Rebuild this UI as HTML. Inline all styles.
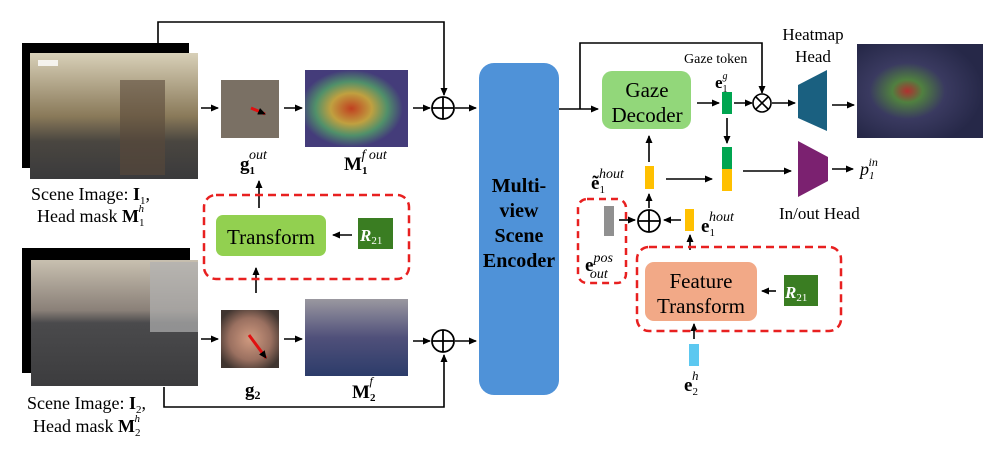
<!DOCTYPE html>
<html><head><meta charset="utf-8"><style>
body{margin:0;background:#fff;}
svg text{font-family:"Liberation Serif",serif;}
</style></head><body>
<svg width="997" height="444" viewBox="0 0 997 444" xmlns="http://www.w3.org/2000/svg">
<defs>
<marker id="a" markerWidth="8" markerHeight="8" refX="7" refY="4" orient="auto" markerUnits="userSpaceOnUse"><path d="M0,0.5 L8,4 L0,7.5 Z" fill="#000"/></marker>
<linearGradient id="p1" x1="0" y1="0" x2="0" y2="1"><stop offset="0" stop-color="#d8d0b8"/><stop offset="0.5" stop-color="#8a7a5a"/><stop offset="0.7" stop-color="#4a4640"/><stop offset="1" stop-color="#3a3a3c"/></linearGradient>
<linearGradient id="p2" x1="0" y1="0" x2="0" y2="1"><stop offset="0" stop-color="#c8c0b0"/><stop offset="0.4" stop-color="#8a8078"/><stop offset="0.5" stop-color="#4a4a4c"/><stop offset="1" stop-color="#3c3c3e"/></linearGradient>
<radialGradient id="h1" cx="0.45" cy="0.5" r="0.5"><stop offset="0" stop-color="#c04020"/><stop offset="0.4" stop-color="#c0a040"/><stop offset="0.7" stop-color="#50906a"/><stop offset="1" stop-color="#443c7a"/></radialGradient>
<linearGradient id="h2" x1="0" y1="0" x2="0" y2="1"><stop offset="0" stop-color="#9a98a0"/><stop offset="0.5" stop-color="#50507a"/><stop offset="1" stop-color="#2c3c6a"/></linearGradient>
<radialGradient id="h3" cx="0.4" cy="0.5" r="0.6"><stop offset="0" stop-color="#b03030"/><stop offset="0.2" stop-color="#508040"/><stop offset="0.5" stop-color="#3a3a60"/><stop offset="1" stop-color="#262848"/></radialGradient>
<radialGradient id="f" cx="0.5" cy="0.5" r="0.6"><stop offset="0" stop-color="#d09a80"/><stop offset="0.6" stop-color="#9a7060"/><stop offset="1" stop-color="#403530"/></radialGradient>
</defs>
<rect x="22" y="43" width="167" height="125" fill="#000"/>
<rect x="30" y="53" width="168" height="126" fill="url(#p1)"/>
<rect x="120" y="80" width="45" height="95" fill="#5a4a3a" opacity="0.6"/>
<rect x="38" y="60" width="20" height="6" fill="#fff" opacity="0.8"/>
<rect x="22" y="248" width="168" height="125" fill="#000"/>
<rect x="31" y="260" width="167" height="126" fill="url(#p2)"/>
<rect x="150" y="262" width="48" height="70" fill="#b0b0b0" opacity="0.7"/>
<text x="31" y="200" font-size="18">Scene Image: <tspan font-weight="bold">I</tspan><tspan font-size="11" dy="4">1</tspan><tspan dy="-4">,</tspan></text>
<text x="37" y="222" font-size="18">Head mask <tspan font-weight="bold">M</tspan><tspan font-size="11" dy="4">1</tspan><tspan font-size="11" font-style="italic" dx="-6" dy="-14">h</tspan></text>
<text x="27" y="409" font-size="18">Scene Image: <tspan font-weight="bold">I</tspan><tspan font-size="11" dy="4">2</tspan><tspan dy="-4">,</tspan></text>
<text x="33" y="432" font-size="18">Head mask <tspan font-weight="bold">M</tspan><tspan font-size="11" dy="4">2</tspan><tspan font-size="11" font-style="italic" dx="-6" dy="-14">h</tspan></text>
<g stroke="#000" stroke-width="1.6" fill="none">
<line x1="201" y1="108" x2="218" y2="108" marker-end="url(#a)"/>
<line x1="284" y1="108" x2="302" y2="108" marker-end="url(#a)"/>
<line x1="413" y1="108" x2="430" y2="108" marker-end="url(#a)"/>
<line x1="455" y1="108" x2="476" y2="108" marker-end="url(#a)"/>
<polyline points="158,43 158,22 444,22 444,95" marker-end="url(#a)"/>
<line x1="201" y1="339" x2="218" y2="339" marker-end="url(#a)"/>
<line x1="284" y1="339" x2="302" y2="339" marker-end="url(#a)"/>
<line x1="413" y1="341" x2="430" y2="341" marker-end="url(#a)"/>
<line x1="455" y1="341" x2="476" y2="341" marker-end="url(#a)"/>
<polyline points="164,387 164,407 444,407 444,355" marker-end="url(#a)"/>
<line x1="256" y1="293" x2="256" y2="268" marker-end="url(#a)"/>
<line x1="259" y1="208" x2="259" y2="181" marker-end="url(#a)"/>
<line x1="352" y1="235" x2="333" y2="235" marker-end="url(#a)"/>
</g>
<circle cx="443" cy="108" r="11" fill="#fff" stroke="#000" stroke-width="1.8"/><path d="M432,108 H454 M443,97 V119" stroke="#000" stroke-width="1.8"/>
<circle cx="443" cy="341" r="11" fill="#fff" stroke="#000" stroke-width="1.8"/><path d="M432,341 H454 M443,330 V352" stroke="#000" stroke-width="1.8"/>
<rect x="221" y="80" width="58" height="58" fill="#7a7064"/>
<line x1="251" y1="108" x2="265" y2="114" stroke="#e01010" stroke-width="3" marker-end="url(#a)"/>
<rect x="305" y="70" width="103" height="77" fill="url(#h1)"/>
<text x="240" y="170" font-size="19" font-weight="bold">g<tspan font-size="11" dy="4">1</tspan><tspan font-size="14" font-style="italic" font-weight="normal" dx="-6" dy="-15">out</tspan></text>
<text x="344" y="170" font-size="19" font-weight="bold">M<tspan font-size="11" dy="4">1</tspan><tspan font-size="14" font-style="italic" font-weight="normal" dx="-6" dy="-15">f out</tspan></text>
<rect x="221" y="310" width="58" height="58" fill="url(#f)"/>
<line x1="249" y1="335" x2="266" y2="358" stroke="#e01010" stroke-width="3" marker-end="url(#a)"/>
<rect x="305" y="299" width="103" height="77" fill="url(#h2)"/>
<text x="245" y="396" font-size="19" font-weight="bold">g<tspan font-size="12" dy="3">2</tspan></text>
<text x="352" y="398" font-size="19" font-weight="bold">M<tspan font-size="11" dy="3">2</tspan><tspan font-size="12" font-style="italic" font-weight="normal" dx="-6" dy="-16">f</tspan></text>
<rect x="204" y="195" width="205" height="84" rx="12" fill="none" stroke="#e82020" stroke-width="2.5" stroke-dasharray="8,5"/>
<rect x="216" y="215" width="110" height="41" rx="7" fill="#92d050"/>
<text x="271" y="244" font-size="21" text-anchor="middle">Transform</text>
<rect x="358" y="218" width="35" height="31" fill="#3a7d22"/>
<text x="360" y="241" font-size="17" fill="#fff" font-weight="bold" font-style="italic">R<tspan font-size="11" font-style="normal" font-weight="normal" dy="3">21</tspan></text>
<rect x="479" y="63" width="80" height="332" rx="15" fill="#4f92d8"/>
<text font-size="20" font-weight="bold" text-anchor="middle"><tspan x="519" y="192">Multi-</tspan><tspan x="519" y="217">view</tspan><tspan x="519" y="242">Scene</tspan><tspan x="519" y="267">Encoder</tspan></text>
<g stroke="#000" stroke-width="1.6" fill="none">
<line x1="559" y1="109" x2="598" y2="109" marker-end="url(#a)"/>
<polyline points="580,109 580,43 762,43 762,93" marker-end="url(#a)"/>
<line x1="697" y1="103" x2="719" y2="103" marker-end="url(#a)"/>
<line x1="734" y1="103" x2="752" y2="103" marker-end="url(#a)"/>
<line x1="772" y1="103" x2="795" y2="103" marker-end="url(#a)"/>
<line x1="832" y1="105" x2="854" y2="105" marker-end="url(#a)"/>
<line x1="727" y1="118" x2="727" y2="143" marker-end="url(#a)"/>
<line x1="649" y1="162" x2="649" y2="136" marker-end="url(#a)"/>
<line x1="666" y1="179" x2="712" y2="179" marker-end="url(#a)"/>
<line x1="743" y1="171" x2="791" y2="171" marker-end="url(#a)"/>
<line x1="832" y1="169" x2="853" y2="169" marker-end="url(#a)"/>
<line x1="649" y1="208" x2="649" y2="194" marker-end="url(#a)"/>
<line x1="681" y1="220" x2="664" y2="220" marker-end="url(#a)"/>
<line x1="619" y1="220" x2="635" y2="220" marker-end="url(#a)"/>
<line x1="690" y1="250" x2="690" y2="235" marker-end="url(#a)"/>
<line x1="776" y1="291" x2="762" y2="291" marker-end="url(#a)"/>
<line x1="694" y1="339" x2="694" y2="324" marker-end="url(#a)"/>
</g>
<rect x="602" y="71" width="89" height="58" rx="10" fill="#92d77a"/>
<text font-size="21" text-anchor="middle"><tspan x="647" y="97">Gaze</tspan><tspan x="647" y="122">Decoder</tspan></text>
<text x="684" y="63" font-size="14">Gaze token</text>
<text x="715" y="88" font-size="17" font-weight="bold">e<tspan font-size="10" font-weight="normal" dy="4">1</tspan><tspan font-size="10" font-style="italic" font-weight="normal" dx="-5" dy="-13">g</tspan></text>
<rect x="722" y="92" width="10" height="22" fill="#00a550"/>
<circle cx="762" cy="103" r="9" fill="#fff" stroke="#000" stroke-width="1.6"/><path d="M756,97 L768,109 M768,97 L756,109" stroke="#000" stroke-width="1.6"/>
<polygon points="798,85 827,70 827,131 798,118" fill="#1a6080"/>
<text font-size="17" text-anchor="middle"><tspan x="813" y="40">Heatmap</tspan><tspan x="813" y="62">Head</tspan></text>
<rect x="857" y="44" width="126" height="94" fill="url(#h3)"/>
<rect x="722" y="147" width="10" height="22" fill="#00a550"/>
<rect x="722" y="169" width="10" height="22" fill="#ffc000"/>
<polygon points="798,141 828,157 828,181 798,197" fill="#7b2170"/>
<text x="779" y="219" font-size="17">In/out Head</text>
<text x="860" y="175" font-size="18" font-style="italic">p<tspan font-size="11" dy="4">1</tspan><tspan font-size="12" dx="-6" dy="-13">in</tspan></text>
<rect x="645" y="166" width="9" height="23" fill="#ffc000"/>
<text x="591" y="189" font-size="19" font-weight="bold">ẽ<tspan font-size="11" font-weight="normal" dy="4">1</tspan><tspan font-size="14" font-style="italic" font-weight="normal" dx="-6" dy="-15">hout</tspan></text>
<circle cx="649" cy="221" r="11" fill="#fff" stroke="#000" stroke-width="1.8"/><path d="M638,221 H660 M649,210 V232" stroke="#000" stroke-width="1.8"/>
<rect x="685" y="209" width="9" height="22" fill="#ffc000"/>
<text x="701" y="232" font-size="19" font-weight="bold">e<tspan font-size="11" font-weight="normal" dy="4">1</tspan><tspan font-size="14" font-style="italic" font-weight="normal" dx="-6" dy="-15">hout</tspan></text>
<rect x="578" y="199" width="48" height="84" rx="9" fill="none" stroke="#e82020" stroke-width="2.5" stroke-dasharray="7,5"/>
<rect x="604" y="206" width="10" height="30" fill="#909090"/>
<text x="585" y="271" font-size="19" font-weight="bold">e<tspan font-size="14" font-style="italic" font-weight="normal" dy="-9">pos</tspan><tspan font-size="14" font-style="italic" font-weight="normal" dx="-23" dy="16">out</tspan></text>
<rect x="637" y="247" width="204" height="84" rx="12" fill="none" stroke="#e82020" stroke-width="2.5" stroke-dasharray="8,5"/>
<rect x="645" y="262" width="112" height="59" rx="9" fill="#f2a987"/>
<text font-size="21" text-anchor="middle"><tspan x="701" y="288">Feature</tspan><tspan x="701" y="313">Transform</tspan></text>
<rect x="784" y="275" width="34" height="31" fill="#3a7d22"/>
<text x="785" y="298" font-size="17" fill="#fff" font-weight="bold" font-style="italic">R<tspan font-size="11" font-style="normal" font-weight="normal" dy="3">21</tspan></text>
<rect x="689" y="344" width="10" height="22" fill="#5cc8f0"/>
<text x="684" y="391" font-size="19" font-weight="bold">e<tspan font-size="11" font-weight="normal" dy="4">2</tspan><tspan font-size="13" font-style="italic" font-weight="normal" dx="-6" dy="-15">h</tspan></text>
</svg>
</body></html>
